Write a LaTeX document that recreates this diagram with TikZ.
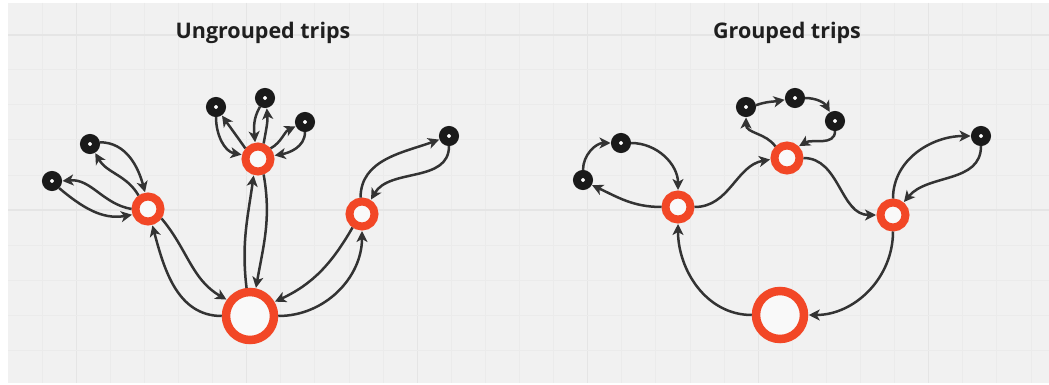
\documentclass[tikz,border=0pt]{standalone}
\usepackage{fontspec}
\setmainfont{Open Sans}
\usetikzlibrary{arrows.meta}
\definecolor{bg}{HTML}{F1F1F1}
\definecolor{gridminor}{HTML}{EBEBEB}
\definecolor{gridmajor}{HTML}{E5E5E5}
\definecolor{mred}{HTML}{F24726}
\definecolor{edge}{HTML}{333333}
\definecolor{dotc}{HTML}{1A1A1A}
\tikzset{
  depot/.style={circle, draw=mred, fill=white!60!bg, line width=8.5pt, minimum size=48pt, inner sep=0pt},
  hub/.style={circle, draw=mred, fill=white!60!bg, line width=8pt, minimum size=25pt, inner sep=0pt},
  stop/.style={circle, draw=dotc, fill=white, line width=8pt, minimum size=12pt, inner sep=0pt},
  trip/.style={draw=edge, line width=2.5pt, -{Stealth[length=11pt,width=11pt,inset=3pt]}, shorten >=0.5pt},
  title/.style={font=\fontsize{21.5}{26}\selectfont\bfseries, text=black!88, anchor=base}
}
\begin{document}
\begin{tikzpicture}[x=1pt,y=1pt]
\useasboundingbox (0,0) rectangle (1049,-385);
\fill[white] (0,0) rectangle (1049,-385);
\fill[bg] (8,-3) rectangle (1049,-383);
% grid
\foreach \k in {1,...,30} {
  \pgfmathsetmacro{\gx}{8+34.1*\k}
  \pgfmathtruncatemacro{\mj}{mod(\k+3,5)==0 ? 1 : 0}
  \ifnum\mj=1 \draw[gridmajor, line width=1.2pt] (\gx,-3) -- (\gx,-383);
  \else \draw[gridminor, line width=1pt] (\gx,-3) -- (\gx,-383); \fi
}
\foreach \k in {1,...,10} {
  \pgfmathsetmacro{\gy}{35*\k}
  \pgfmathtruncatemacro{\mj}{mod(\k+4,5)==0 ? 1 : 0}
  \ifnum\mj=1 \draw[gridmajor, line width=1.2pt] (8,-\gy) -- (1049,-\gy);
  \else \draw[gridminor, line width=1pt] (8,-\gy) -- (1049,-\gy); \fi
}
% titles
\node[title] (t1) at (263,-39) {Ungrouped trips};
\node[title] (t2) at (787,-39) {Grouped trips};

% ---------- Ungrouped ----------
\node[depot] (LD) at (250,-316) {};
\node[hub] (LA) at (148,-209) {};
\node[hub] (LB) at (258,-159) {};
\node[hub] (LC) at (362,-214) {};
\node[stop] (La1) at (52,-181) {};
\node[stop] (La2) at (90,-144) {};
\node[stop] (Lb1) at (216,-107) {};
\node[stop] (Lb2) at (265,-98) {};
\node[stop] (Lb3) at (305,-122) {};
\node[stop] (Lc1) at (449,-136) {};

\draw[trip] (LD.180) to[out=180,in=-75] (LA.-75);
\draw[trip] (LA.-35) to[out=-50,in=150] (LD.145);
\draw[trip] (LA.180) to[out=170,in=5] (La1.0);
\draw[trip] (La1.-45) to[out=-40,in=190] (LA.200);
\draw[trip] (LA.125) to[out=120,in=-60] (La2.-60);
\draw[trip] (La2.10) to[out=0,in=105] (LA.100);

\draw[trip] (LD.97) to[out=97,in=-98] (LB.-105);
\draw[trip] (LB.-70) to[out=-80,in=80] (LD.78);
\draw[trip] (LB.140) to[out=125,in=-55] (Lb1.-55);
\draw[trip] (Lb1.-90) to[out=-90,in=170] (LB.165);
\draw[trip] (Lb2.-120) to[out=-120,in=95] (LB.100);
\draw[trip] (LB.70) to[out=80,in=-85] (Lb2.-80);
\draw[trip] (LB.40) to[out=30,in=205] (Lb3.205);
\draw[trip] (Lb3.-90) to[out=-90,in=10] (LB.12);

\draw[trip] (LD.0) to[out=0,in=-90] (LC.-90);
\draw[trip] (LC.-125) to[out=-120,in=25] (LD.30);
\draw[trip] (LC.95) to[out=90,in=200] (Lc1.200);
\draw[trip] (Lc1.-90) to[out=-90,in=60] (LC.58);

% ---------- Grouped ----------
\node[depot] (RD) at (780,-315) {};
\node[hub] (RA) at (678,-207) {};
\node[hub] (RB) at (787,-158) {};
\node[hub] (RC) at (893,-215) {};
\node[stop] (Ra1) at (583,-180) {};
\node[stop] (Ra2) at (621,-143) {};
\node[stop] (Rb1) at (746,-107) {};
\node[stop] (Rb2) at (795,-98) {};
\node[stop] (Rb3) at (835,-121) {};
\node[stop] (Rc1) at (981,-136) {};

\draw[trip] (RD.180) to[out=180,in=-90] (RA.-90);
\draw[trip] (RA.0) to[out=0,in=190] (RB.185);
\draw[trip] (RB.0) to[out=0,in=180] (RC.180);
\draw[trip] (RC.-90) to[out=-90,in=0] (RD.0);
\draw[trip] (RA.180) to[out=180,in=-25] (Ra1.-30);
\draw[trip] (Ra1.90) to[out=90,in=180] (Ra2.180);
\draw[trip] (Ra2.0) to[out=0,in=90] (RA.90);
\draw[trip] (RB.135) to[out=125,in=-90] (Rb1.-90);
\draw[trip] (Rb1.10) to[out=20,in=190] (Rb2.190);
\draw[trip] (Rb2.0) to[out=0,in=120] (Rb3.120);
\draw[trip] (Rb3.-90) to[out=-90,in=30] (RB.45);
\draw[trip] (RC.90) to[out=90,in=180] (Rc1.180);
\draw[trip] (Rc1.-90) to[out=-90,in=50] (RC.50);
\end{tikzpicture}
\end{document}
